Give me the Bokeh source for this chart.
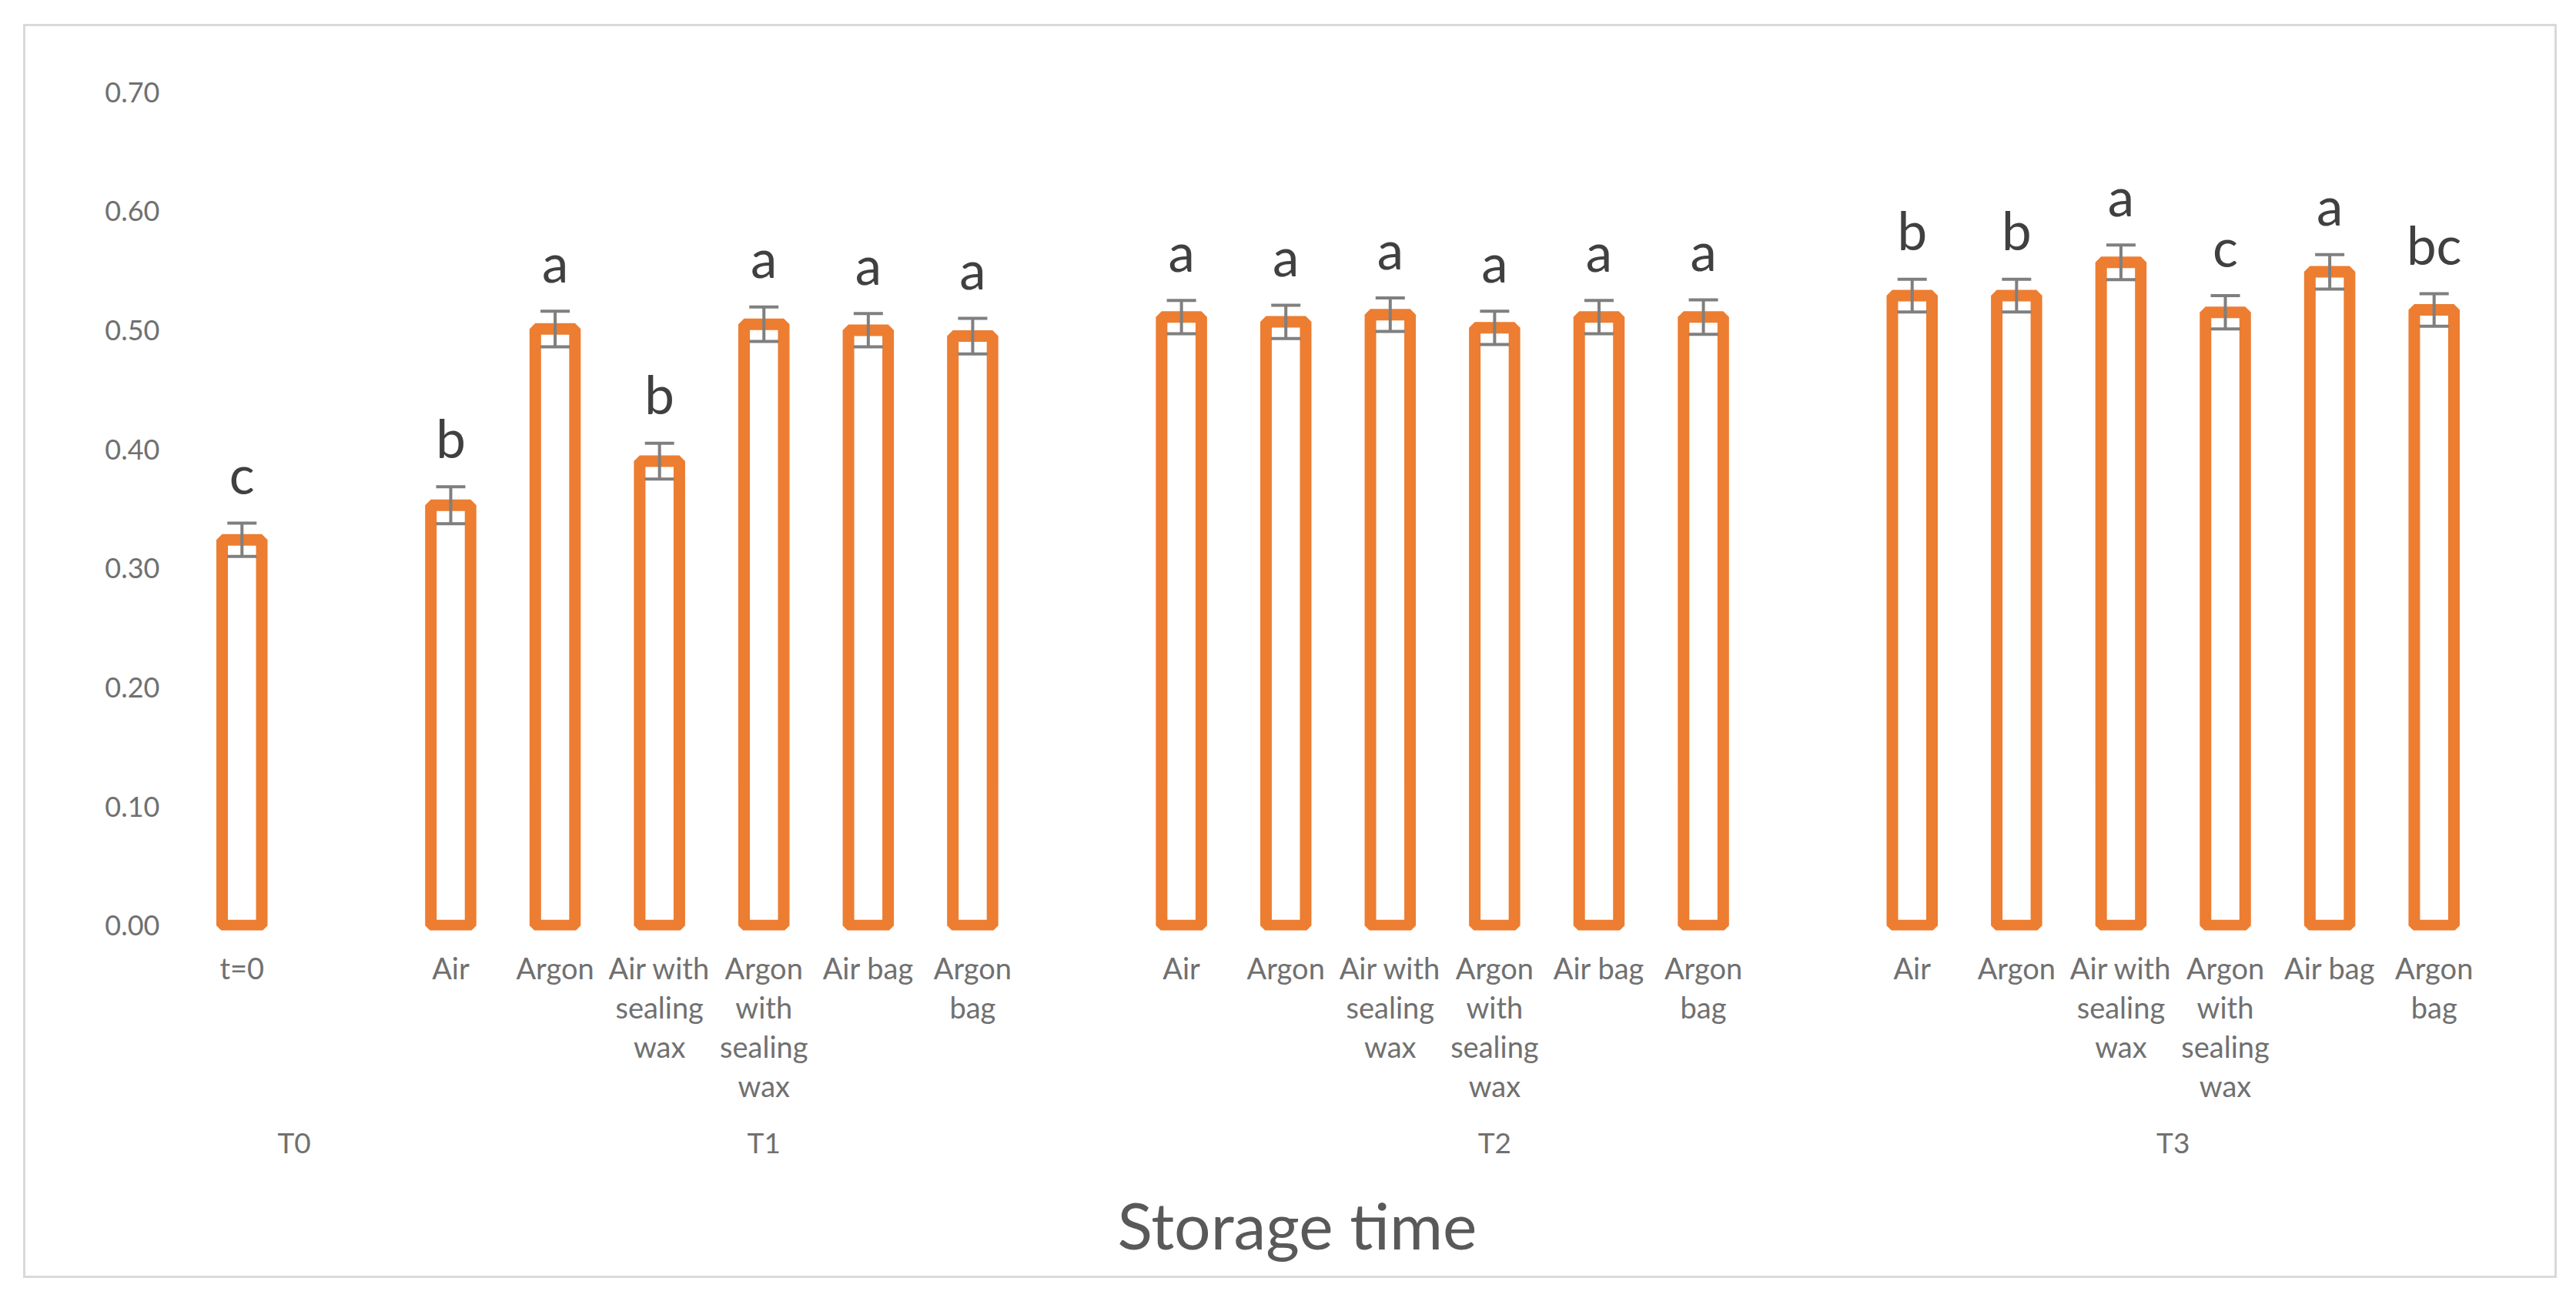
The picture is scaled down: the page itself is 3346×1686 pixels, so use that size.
from bokeh.plotting import figure
from bokeh.models import (FactorRange, Range1d, FixedTicker, PrintfTickFormatter,
                          ColumnDataSource, Whisker, TeeHead, Title)
from bokeh.core.properties import value
from bokeh.embed import file_html
from bokeh.resources import INLINE

# ---------------- data ----------------
groups = ["T0", "T1", "T2", "T3"]
t0_labels = ["t=0"]
treatments = ["Air", "Argon", "Air with\nsealing\nwax", "Argon\nwith\nsealing\nwax",
              "Air bag", "Argon\nbag"]

t0_means = [0.324]
t1_means = [0.353, 0.501, 0.390, 0.505, 0.500, 0.495]
t2_means = [0.511, 0.507, 0.513, 0.502, 0.511, 0.511]
t3_means = [0.529, 0.529, 0.557, 0.515, 0.549, 0.517]

t0_err = [0.014]
t1_err = [0.0155, 0.015, 0.015, 0.0145, 0.014, 0.015]
t2_err = [0.014, 0.014, 0.014, 0.014, 0.014, 0.0145]
t3_err = [0.0137, 0.0137, 0.0145, 0.014, 0.0145, 0.0137]

t0_letters = ["c"]
t1_letters = ["b", "a", "b", "a", "a", "a"]
t2_letters = ["a", "a", "a", "a", "a", "a"]
t3_letters = ["b", "b", "a", "c", "a", "bc"]

y_ticks = [0.0, 0.1, 0.2, 0.3, 0.4, 0.5, 0.6, 0.7]
x_title = "Storage time"

# ---------------- build ----------------
ORANGE = "#ED7D31"
GREY_TXT = "#707070"
TITLE_TXT = "#595959"
DARK_TXT = "#404040"
ERR_COL = "#7F7F7F"
FRAME = "#d9d9d9"

factors = []
xs, tops, errs, letters = [], [], [], []
series = [
    ("T0", t0_labels, t0_means, t0_err, t0_letters, True),
    ("T1", treatments, t1_means, t1_err, t1_letters, True),
    ("T2", treatments, t2_means, t2_err, t2_letters, True),
    ("T3", treatments, t3_means, t3_err, t3_letters, False),
]
for g, labs, means, es, lets, blank in series:
    for lab, m, e, l in zip(labs, means, es, lets):
        factors.append((g, lab))
        xs.append((g, lab))
        tops.append(m)
        errs.append(e)
        letters.append(l)
    if blank:
        factors.append((g, " "))

src = ColumnDataSource(data=dict(
    x=xs, top=tops,
    upper=[t + e for t, e in zip(tops, errs)],
    lower=[t - e for t, e in zip(tops, errs)],
    letter=letters,
))

p = figure(
    x_range=FactorRange(*factors, group_padding=0, factor_padding=0,
                        subgroup_padding=0, range_padding=0),
    y_range=Range1d(-0.004, 0.70),
    width=3291, height=1649,
    output_backend="svg", toolbar_location=None,
    min_border_left=216, min_border_right=92,
    min_border_top=88, min_border_bottom=472,
    outline_line_color=None,
    border_fill_color=None,
)
# thin light-grey chart border (drawn as CSS background lines behind the canvas)
grad = "linear-gradient(%s,%s)" % (FRAME, FRAME)
p.styles = {
    "margin-left": "30px",
    "margin-top": "31px",
    "background-color": "white",
    "background-image": ", ".join([grad] * 4),
    "background-size": "100% 3px, 100% 3px, 3px 1629px, 3px 1629px",
    "background-position": "0 0, 0 1626px, 0 0, 100% 0",
    "background-repeat": "no-repeat",
}
p.xgrid.visible = False
p.ygrid.visible = False

p.vbar(x="x", top="top", bottom=0, width=0.38, source=src,
       fill_color="white", line_color=ORANGE, line_width=15)

whisk = Whisker(base="x", upper="upper", lower="lower", source=src,
                line_color=ERR_COL, line_width=4, level="annotation",
                upper_head=TeeHead(size=38, line_color=ERR_COL, line_width=4),
                lower_head=TeeHead(size=38, line_color=ERR_COL, line_width=4))
p.add_layout(whisk)

p.text(x="x", y="upper", text="letter", source=src,
       text_font=value("Lato"), text_font_size="69px", text_color=DARK_TXT,
       text_align="center", text_baseline="alphabetic", y_offset=-64)

# y axis
p.yaxis.ticker = FixedTicker(ticks=y_ticks)
p.yaxis.formatter = PrintfTickFormatter(format="%.2f")
p.yaxis.axis_line_color = None
p.yaxis.major_tick_line_color = None
p.yaxis.minor_tick_line_color = None
p.yaxis.major_tick_out = 0
p.yaxis.major_tick_in = 0
p.yaxis.major_label_standoff = 39
p.yaxis.major_label_text_font = "Lato"
p.yaxis.major_label_text_font_size = "36px"
p.yaxis.major_label_text_color = GREY_TXT

# x axis
xa = p.xaxis[0]
xa.axis_line_color = None
xa.major_tick_line_color = None
xa.major_tick_out = 0
xa.major_tick_in = 0
xa.separator_line_color = None
xa.major_label_standoff = 25
xa.major_label_orientation = "horizontal"
xa.group_label_orientation = "horizontal"
xa.major_label_text_font = "Lato"
xa.major_label_text_font_size = "38px"
xa.major_label_text_color = GREY_TXT
xa.major_label_text_line_height = 1.11
xa.group_text_font = "Lato"
xa.group_text_font_size = "37px"
xa.group_text_font_style = "normal"
xa.group_text_color = GREY_TXT

# axis title, centred on the whole chart like the reference
title = Title(text=x_title, align="left", offset=1205,
              text_font="Lato", text_font_size="84px", text_font_style="normal",
              text_color=TITLE_TXT)
if "standoff" in title.properties():
    title.standoff = 59
p.add_layout(title, "below")

open("out.html", "w").write(file_html(p, INLINE))
